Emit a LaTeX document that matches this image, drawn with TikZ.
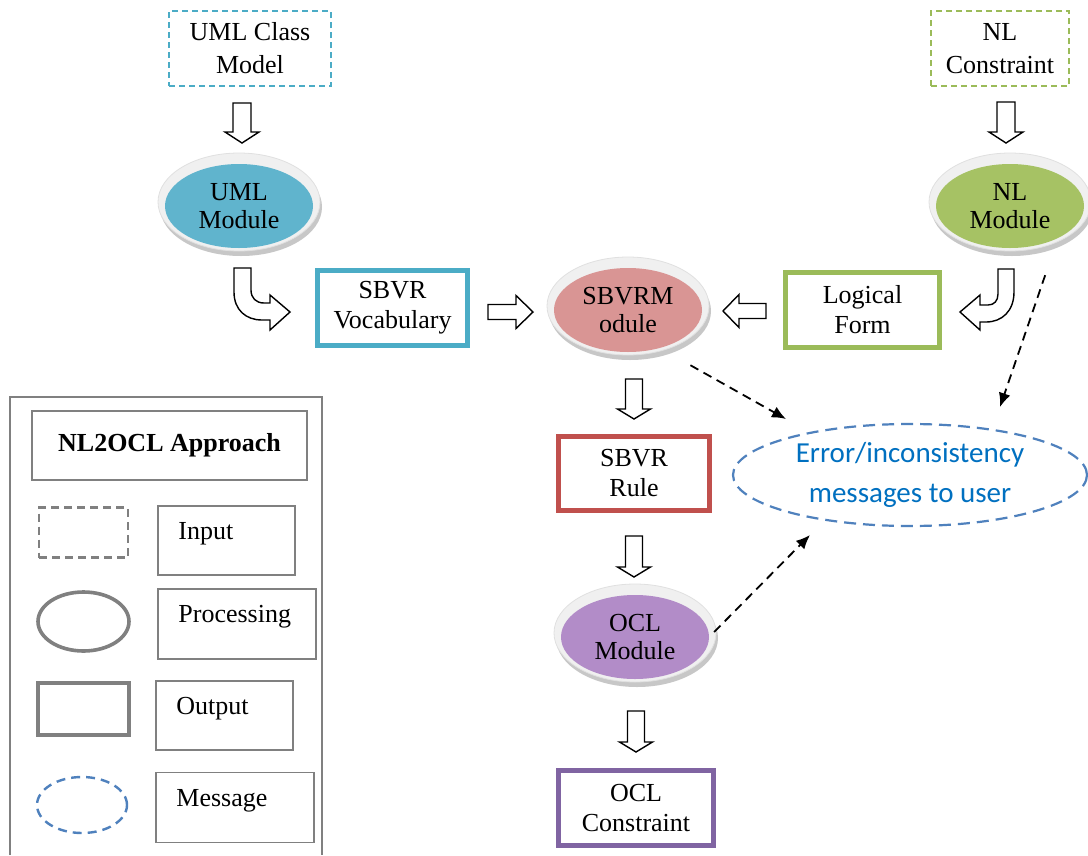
\documentclass[tikz,border=0pt]{standalone}
\usepackage{fontspec}
\setmainfont{Liberation Serif}
\newfontfamily\msgfont{Carlito}
\usetikzlibrary{shapes.geometric,arrows.meta}

\definecolor{umlc}{RGB}{75,172,198}
\definecolor{umlfill}{RGB}{96,180,205}
\definecolor{nlc}{RGB}{155,187,89}
\definecolor{nlfill}{RGB}{166,194,100}
\definecolor{sbvrc}{RGB}{192,80,77}
\definecolor{sbvrfill}{RGB}{217,149,148}
\definecolor{oclc}{RGB}{128,100,162}
\definecolor{oclfill}{RGB}{178,140,200}
\definecolor{msgc}{RGB}{79,129,189}
\definecolor{msgtext}{RGB}{0,112,192}
\definecolor{legc}{RGB}{128,128,128}

\tikzset{
  txt/.style={font=\fontsize{26}{30}\selectfont, align=center},
  inbox/.style={txt, draw, dash pattern=on 6pt off 4pt, line width=1.8pt,
    minimum height=75, inner sep=0, font=\fontsize{26}{33}\selectfont},
  outbox/.style={txt, draw, line width=5pt, inner sep=0, minimum height=75},
  procfill/.style={ellipse, minimum width=148, minimum height=84, inner sep=0,
    align=center, font=\fontsize{26}{28}\selectfont},
  bendarrow/.style={draw=black, fill=white, line width=1.4pt, line join=miter},
  % hollow block arrow pointing along +x: length, shaft half width, head half width, head length
  pics/blockarrow/.style n args={4}{code={
    \draw[bendarrow] (0,-#2) -- (#1-#4,-#2) -- (#1-#4,-#3) -- (#1,0)
      -- (#1-#4,#3) -- (#1-#4,#2) -- (0,#2) -- cycle;
  }},
  msgarrow/.style={line width=1.8pt, dash pattern=on 9pt off 6pt,
    -{Latex[length=14pt,width=12pt]}},
  msgellipse/.style={ellipse, draw=msgc, line width=2.2pt, dash pattern=on 12pt off 7pt},
  legline/.style={draw=legc, line width=1.6pt},
  legbox/.style={legline, inner sep=0},
  leglabel/.style={font=\fontsize{26}{30}\selectfont, anchor=west, inner sep=0,
    xshift=21pt, yshift=7pt}
}

% processing module: shadow, light rim and coloured disc with its label
\newcommand\procmod[5]{%
  \fill[black!22] (#2+2,#3+1) ellipse (81 and 49);
  \filldraw[draw=black!12, fill=black!6, line width=0.8pt] (#2,#3-4) ellipse (81 and 49);
  \node[procfill, fill=#4] (#1) at (#2,#3) {#5};
}

\begin{document}
\begin{tikzpicture}[x=1pt,y=-1pt]
\fill[white] (0,0) rectangle (1088,855);
\useasboundingbox (0,0) rectangle (1088,855);

% inputs
\node[inbox, draw=umlc, minimum width=162] (umlin) at (250,48.5) {UML Class\\Model};
\node[inbox, draw=nlc, minimum width=138] (nlin) at (1000,48.5) {NL\\Constraint};

% processing modules
\procmod{umlmod}{239}{206}{umlfill}{UML\\Module}
\procmod{nlmod}{1010}{206}{nlfill}{NL\\Module}
\procmod{sbvrmod}{628}{310}{sbvrfill}{SBVRM\\odule}
\procmod{oclmod}{635}{637}{oclfill}{OCL\\Module}

% outputs
\node[outbox, draw=umlc, minimum width=150] (voc) at (392.5,308) {SBVR\\Vocabulary};
\node[outbox, draw=nlc, minimum width=154] (lf) at (862.5,310) {Logical\\Form};
\node[outbox, draw=sbvrc, minimum width=151, minimum height=74] (rule) at (634,473.5) {SBVR\\Rule};
\node[outbox, draw=oclc, minimum width=155] (oclout) at (636,808) {OCL\\Constraint};

% messages
\node[msgellipse, minimum width=354, minimum height=102, text=msgtext, align=center,
  font=\msgfont\fontsize{29}{40}\selectfont] (err) at (910,475) {Error/inconsistency\\messages to user};

% block arrows
\pic (a1) [rotate=-90] at (242,103) {blockarrow={40}{9}{17}{11}};
\pic (a2) [rotate=-90] at (1006,102) {blockarrow={41}{9}{17}{11}};
\pic (a3) at (488,312) {blockarrow={45}{7.5}{16.5}{17}};
\pic (a4) [rotate=180] at (766,311) {blockarrow={43}{7.5}{16.5}{16}};
\pic (a5) [rotate=-90] at (634,379) {blockarrow={40}{8.5}{16.5}{10}};
\pic (a6) [rotate=-90] at (634,536) {blockarrow={41}{8.5}{16.5}{10}};
\pic (a7) [rotate=-90] at (636,711) {blockarrow={41}{8.5}{16.5}{10}};

% bent block arrows
\draw[bendarrow] (234,268) -- (251,268) -- (251,290)
  .. controls (251,298) and (256,303) .. (264,303) -- (270,303) -- (270,295)
  -- (290,312) -- (270,330) -- (270,320) -- (262,320)
  .. controls (246,320) and (234,310) .. (234,292) -- cycle;
\draw[bendarrow] (998,269) -- (1014,269) -- (1014,292)
  .. controls (1014,311) and (1002,322) .. (986,322) -- (980,322) -- (980,330)
  -- (960,312) -- (980,295) -- (980,305) -- (988,305)
  .. controls (994,305) and (998,301) .. (998,294) -- cycle;

% message arrows
\coordinate (tipA) at (786,419);
\coordinate (tipB) at (1000,407);
\coordinate (tipC) at (810,535);
\draw[msgarrow, shorten <=35pt] (sbvrmod.-50) -- (tipA);
\draw[msgarrow, shorten <=39pt] (nlmod.-34) -- (tipB);
\draw[msgarrow, shorten <=7pt] (oclmod.east) -- (tipC);

% legend
\draw[legline] (10,855) -- (10,397) -- (322,397) -- (322,855);
\node[legbox, minimum width=275, minimum height=69,
  font=\bfseries\fontsize{26}{30}\selectfont] (legtitle) at (169.5,445.5) {NL2OCL Approach};
\node[draw=legc, line width=2.4pt, dash pattern=on 8pt off 5pt,
  minimum width=89, minimum height=50, inner sep=0] (keyin) at (83.5,532.5) {};
\node[legbox, minimum width=137, minimum height=69,
  label={[leglabel]west:Input}] (labin) at (226.5,540.5) {};
\node[ellipse, draw=legc, line width=3.6pt, minimum width=91, minimum height=59,
  inner sep=0] (keyproc) at (83.5,621.5) {};
\node[legbox, minimum width=158, minimum height=70,
  label={[leglabel]west:Processing}] (labproc) at (237,624) {};
\node[draw=legc, line width=4.7pt, minimum width=91, minimum height=52,
  inner sep=0] (keyout) at (83.5,709) {};
\node[legbox, minimum width=137, minimum height=69,
  label={[leglabel]west:Output}] (labout) at (224.5,715.5) {};
\node[msgellipse, line width=2.4pt, dash pattern=on 9pt off 6pt,
  minimum width=90, minimum height=56, inner sep=0] (keymsg) at (82,805) {};
\node[legbox, minimum width=158, minimum height=70,
  label={[leglabel]west:Message}] (labmsg) at (235,807.5) {};
\end{tikzpicture}
\end{document}
